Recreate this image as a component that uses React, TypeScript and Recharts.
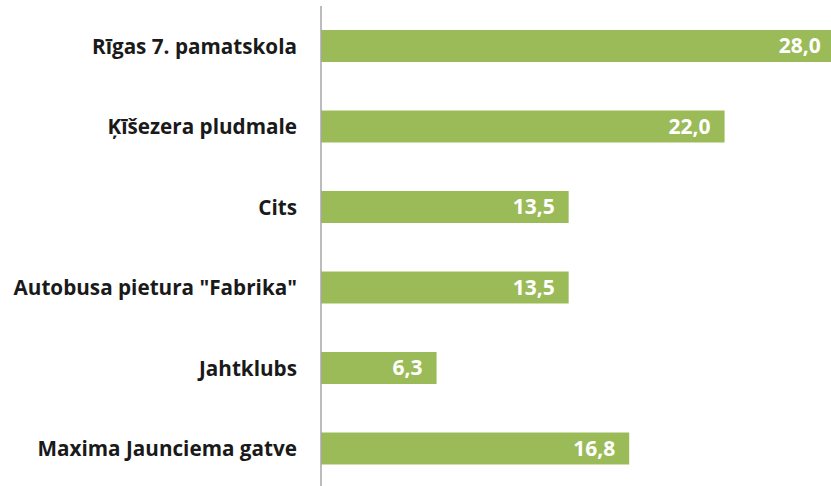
import { BarChart, Bar, XAxis, YAxis, LabelList } from "recharts";

const categories = [
  "Rīgas 7. pamatskola",
  "Ķīšezera pludmale",
  "Cits",
  'Autobusa pietura "Fabrika"',
  "Jahtklubs",
  "Maxima Jaunciema gatve",
];

const values = [28.0, 22.0, 13.5, 13.5, 6.3, 16.8];

const data = categories.map((name, i) => ({ name, value: values[i] }));

const FONT = "'Open Sans', 'DejaVu Sans', sans-serif";

export default function App() {
  return (
    <div
      style={{
        position: "absolute",
        left: 0,
        top: 0,
        width: 831,
        height: 486,
        overflow: "hidden",
        background: "#fff",
      }}
    >
      <BarChart
        width={831}
        height={489}
        data={data}
        layout="vertical"
        margin={{ top: 6, right: 0, bottom: 0, left: 0 }}
        barSize={32}
      >
        <XAxis type="number" domain={[0, 27.8]} allowDataOverflow hide />
        <YAxis
          type="category"
          dataKey="name"
          width={321}
          tickLine={false}
          tickSize={0}
          tickMargin={24}
          axisLine={{ stroke: "#a6a6a6", strokeWidth: 1.5 }}
          tick={{ fontSize: 20.7, fontWeight: 700, fill: "#1a1a1a", fontFamily: FONT }}
        />
        <Bar dataKey="value" fill="#9bbb59" isAnimationActive={false}>
          <LabelList
            dataKey="value"
            position="insideRight"
            offset={14}
            formatter={(v: number) => v.toFixed(1).replace(".", ",")}
            style={{ fill: "#fff", fontSize: 21, fontWeight: 700, fontFamily: FONT }}
          />
        </Bar>
      </BarChart>
    </div>
  );
}
